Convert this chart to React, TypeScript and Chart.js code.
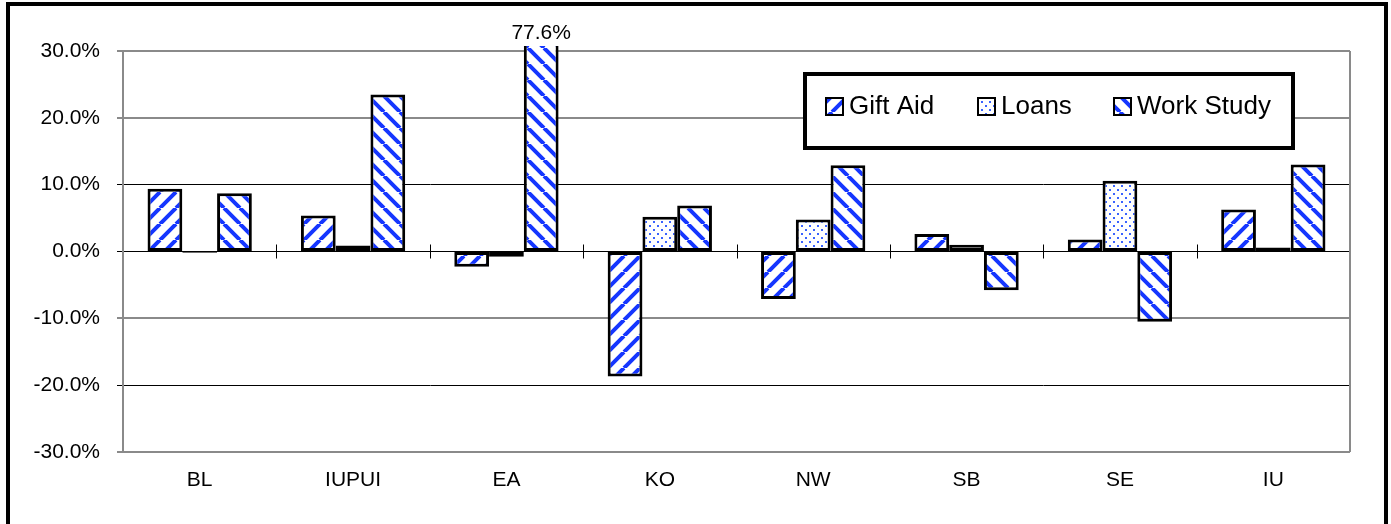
import React, { useEffect, useRef } from "react";
import { Chart, registerables } from "chart.js";
Chart.register(...registerables);

const categories = ["BL", "IUPUI", "EA", "KO", "NW", "SB", "SE", "IU"];
const giftAid = [9.4, 5.4, -2.3, -18.7, -7.1, 2.6, 1.8, 6.3];
const loans = [-0.2, 0.9, -0.8, 5.2, 4.8, 1.0, 10.6, 0.6];
const workStudy = [8.7, 23.5, 77.6, 6.9, 12.9, -5.8, -10.5, 13.0];
const seriesNames = ["Gift Aid", "Loans", "Work Study"];
const yMin = -30;
const yMax = 30;
const yStep = 10;

const FONT = "'Liberation Sans', Arial, sans-serif";
const BLUE = "#1536ff";

function makeStripe(ctx: CanvasRenderingContext2D, dir: number) {
  const s = 16;
  const c = document.createElement("canvas");
  c.width = s;
  c.height = s;
  const g = c.getContext("2d")!;
  g.fillStyle = "#fff";
  g.fillRect(0, 0, s, s);
  g.strokeStyle = BLUE;
  g.lineWidth = 4;
  g.beginPath();
  for (const k of [-s, 0, s]) {
    if (dir > 0) {
      g.moveTo(k, s);
      g.lineTo(k + s, 0);
    } else {
      g.moveTo(k, 0);
      g.lineTo(k + s, s);
    }
  }
  g.stroke();
  return ctx.createPattern(c, "repeat")!;
}

function makeDots(ctx: CanvasRenderingContext2D) {
  const s = 8;
  const c = document.createElement("canvas");
  c.width = s;
  c.height = s;
  const g = c.getContext("2d")!;
  g.fillStyle = "#fff";
  g.fillRect(0, 0, s, s);
  g.fillStyle = "#3a63ff";
  g.fillRect(1, 1, 2, 2);
  g.fillRect(5, 5, 2, 2);
  return ctx.createPattern(c, "repeat")!;
}

const gridColor = (v: number) => (v === 10 || v === 0 || v === -20 ? "#000" : "#8a8a8a");
const gridWidth = (v: number) => (v === 10 || v === 0 || v === -20 ? 1 : 2);

export default function App() {
  const ref = useRef<HTMLCanvasElement>(null);
  useEffect(() => {
    const canvas = ref.current!;
    const ctx = canvas.getContext("2d")!;
    const patterns = [makeStripe(ctx, 1), makeDots(ctx), makeStripe(ctx, -1)];

    const framePlugin = {
      id: "frame",
      beforeDraw(chart: any) {
        const c = chart.ctx;
        c.save();
        c.fillStyle = "#fff";
        c.fillRect(0, 0, chart.width, chart.height);
        c.strokeStyle = "#000";
        c.lineWidth = 4;
        c.strokeRect(8, 4, 1378, 700);
        c.restore();
      },
      afterDatasetsDraw(chart: any) {
        const c = chart.ctx;
        const area = chart.chartArea;
        const ys = chart.scales.y;
        c.save();
        c.strokeStyle = "#8a8a8a";
        c.lineWidth = 2;
        c.beginPath();
        c.moveTo(area.right, area.top);
        c.lineTo(area.right, area.bottom);
        c.stroke();
        const y0 = ys.getPixelForValue(0);
        const n = categories.length;
        const w = (area.right - area.left) / n;
        c.strokeStyle = "#000";
        c.lineWidth = 1;
        c.beginPath();
        for (let i = 1; i < n; i++) {
          const x = Math.round(area.left + i * w) + 0.5;
          c.moveTo(x, y0 - 7);
          c.lineTo(x, y0 + 7);
        }
        c.stroke();
        c.fillStyle = "#000";
        c.font = `21px ${FONT}`;
        c.textAlign = "center";
        c.textBaseline = "middle";
        [giftAid, loans, workStudy].forEach((arr, di) => {
          const meta = chart.getDatasetMeta(di);
          arr.forEach((v, i) => {
            if (v > yMax) {
              c.fillText(v.toFixed(1) + "%", meta.data[i].x, area.top - 18);
            }
          });
        });
        c.fillStyle = "#fff";
        c.fillRect(805, 74, 488, 74);
        c.strokeStyle = "#000";
        c.lineWidth = 4;
        c.strokeRect(805, 74, 488, 74);
        const sw = [826, 978, 1114];
        const tx = [849, 1001, 1137];
        c.font = `26px ${FONT}`;
        c.textAlign = "left";
        c.textBaseline = "middle";
        seriesNames.forEach((name, i) => {
          c.fillStyle = patterns[i];
          c.fillRect(sw[i], 98, 17, 17);
          c.strokeStyle = "#000";
          c.lineWidth = 2;
          c.strokeRect(sw[i], 98, 17, 17);
          c.fillStyle = "#000";
          c.fillText(name, tx[i], 107);
        });
        c.restore();
      },
    };

    const mk = (label: string, data: number[], i: number) => ({
      label,
      data,
      backgroundColor: patterns[i],
      borderColor: "#000",
      borderWidth: 3,
      borderSkipped: false,
      categoryPercentage: 0.68,
      barPercentage: 1,
      clip: { left: 0, top: 5, right: 0, bottom: 0 },
    });

    const chart = new Chart(canvas, {
      type: "bar",
      data: {
        labels: categories,
        datasets: [
          mk(seriesNames[0], giftAid, 0),
          mk(seriesNames[1], loans, 1),
          mk(seriesNames[2], workStudy, 2),
        ] as any,
      },
      options: {
        responsive: false,
        animation: false,
        devicePixelRatio: 1,
        layout: { padding: { left: 0, top: 51, right: 41, bottom: 12 } },
        plugins: { legend: { display: false }, tooltip: { enabled: false }, title: { display: false } },
        scales: {
          x: {
            grid: { display: false, drawTicks: false },
            border: { display: false },
            ticks: { color: "#000", font: { family: FONT, size: 21 }, padding: 16, maxRotation: 0 },
            afterFit: (s: any) => {
              s.height = 60;
            },
          },
          y: {
            min: yMin,
            max: yMax,
            ticks: {
              stepSize: yStep,
              color: "#000",
              font: { family: FONT, size: 21 },
              padding: 17,
              callback: (v: any) => Number(v).toFixed(1) + "%",
            },
            grid: {
              color: (c: any) => gridColor(c.tick ? c.tick.value : 0),
              lineWidth: (c: any) => gridWidth(c.tick ? c.tick.value : 0),
              tickLength: 6,
              drawTicks: true,
            },
            border: { color: "#8a8a8a", width: 2 },
            afterFit: (s: any) => {
              s.width = 123;
            },
          },
        },
      } as any,
      plugins: [framePlugin],
    });
    return () => chart.destroy();
  }, []);
  return (
    <canvas
      ref={ref}
      width={1391}
      height={524}
      style={{ position: "fixed", left: 0, top: 0, width: 1391, height: 524, display: "block" }}
    />
  );
}
